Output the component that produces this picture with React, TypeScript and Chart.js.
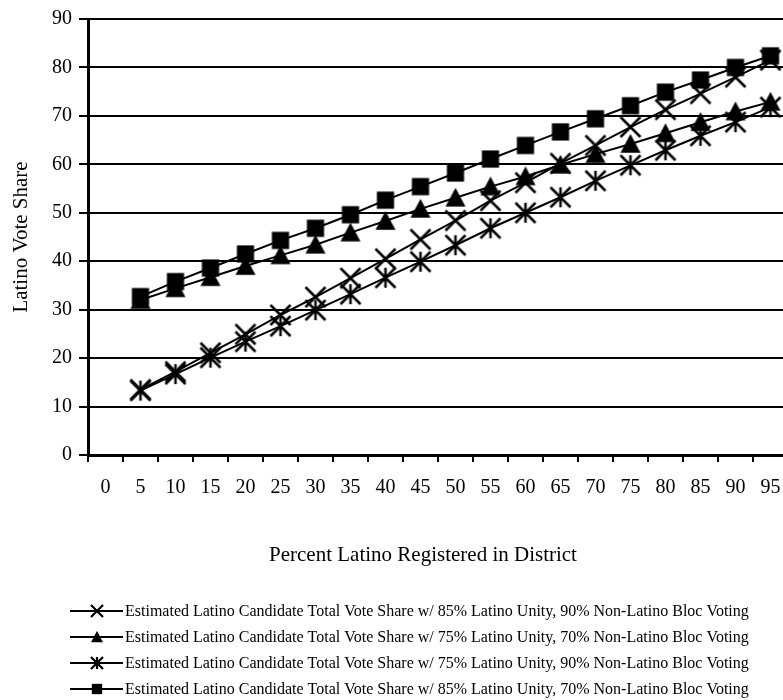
import React, { useEffect, useRef } from "react";
import { Chart, registerables } from "chart.js";

Chart.register(...registerables);

// Percent Latino registered in district (category axis)
const categories = [
  "0", "5", "10", "15", "20", "25", "30", "35", "40", "45",
  "50", "55", "60", "65", "70", "75", "80", "85", "90", "95",
];

// Estimated Latino candidate total vote share, one array per scenario
const unity85bloc90 = [
  null, 13.5, 17.2, 21.1, 24.9, 28.9, 32.6, 36.5, 40.5, 44.5,
  48.4, 52.5, 56.2, 60.2, 63.9, 67.7, 71.3, 74.6, 78.0, 81.5,
];
const unity75bloc70 = [
  null, 32.0, 34.4, 36.7, 39.0, 41.2, 43.4, 45.9, 48.3, 50.8,
  53.1, 55.4, 57.5, 59.9, 62.1, 64.2, 66.4, 68.7, 70.9, 72.9,
];
const unity75bloc90 = [
  null, 13.3, 16.7, 20.1, 23.4, 26.6, 29.9, 33.2, 36.6, 39.9,
  43.3, 46.8, 50.0, 53.2, 56.6, 59.8, 62.9, 65.9, 68.7, 71.8,
];
const unity85bloc70 = [
  null, 32.7, 35.8, 38.6, 41.5, 44.3, 46.8, 49.6, 52.6, 55.4,
  58.2, 61.1, 63.9, 66.7, 69.4, 72.1, 74.9, 77.4, 80.0, 82.4,
];

const seriesLabels = [
  "Estimated Latino Candidate Total Vote Share w/ 85% Latino Unity, 90% Non-Latino Bloc Voting",
  "Estimated Latino Candidate Total Vote Share w/ 75% Latino Unity, 70% Non-Latino Bloc Voting",
  "Estimated Latino Candidate Total Vote Share w/ 75% Latino Unity, 90% Non-Latino Bloc Voting",
  "Estimated Latino Candidate Total Vote Share w/ 85% Latino Unity, 70% Non-Latino Bloc Voting",
];
const seriesMarkers = ["x", "triangle", "star", "square"];

const yTitle = "Latino Vote Share";
const xTitle = "Percent Latino Registered in District";

const FONT = "'Liberation Serif', 'Times New Roman', serif";
const INK = "#000000";

type MarkerKind = "x" | "triangle" | "star" | "square";

// Builds a small bitmap marker used as a Chart.js pointStyle.
function makeMarker(kind: MarkerKind, size: number, lw: number): HTMLCanvasElement {
  const pad = 2;
  const c = document.createElement("canvas");
  c.width = size + pad * 2;
  c.height = size + pad * 2;
  const ctx = c.getContext("2d")!;
  ctx.translate(pad, pad);
  ctx.strokeStyle = INK;
  ctx.fillStyle = INK;
  ctx.lineWidth = lw;
  ctx.lineCap = "butt";
  const s = size;
  if (kind === "x" || kind === "star") {
    ctx.beginPath();
    ctx.moveTo(0, 0);
    ctx.lineTo(s, s);
    ctx.moveTo(s, 0);
    ctx.lineTo(0, s);
    if (kind === "star") {
      ctx.moveTo(s / 2, 0);
      ctx.lineTo(s / 2, s);
    }
    ctx.stroke();
  } else if (kind === "triangle") {
    ctx.beginPath();
    ctx.moveTo(s / 2, 0);
    ctx.lineTo(s, s * 0.94);
    ctx.lineTo(0, s * 0.94);
    ctx.closePath();
    ctx.fill();
  } else {
    const q = s * 0.86;
    const o = (s - q) / 2;
    ctx.fillRect(o, o, q, q);
  }
  return c;
}

export default function App() {
  const canvasRef = useRef<HTMLCanvasElement | null>(null);

  useEffect(() => {
    const canvas = canvasRef.current;
    if (!canvas) return;

    const chartMarkers = seriesMarkers.map((k) => makeMarker(k as MarkerKind, 20, 2.5));
    const legendMarkers = seriesMarkers.map((k) => makeMarker(k as MarkerKind, 12, 2.2));
    const seriesData = [unity85bloc90, unity75bloc70, unity75bloc90, unity85bloc70];

    // Draws the x-axis title and the line-with-marker legend under the plot.
    const legendPlugin = {
      id: "bottomLegend",
      afterDraw(chart: Chart) {
        const ctx = chart.ctx;
        ctx.save();
        ctx.fillStyle = INK;
        ctx.font = `21px ${FONT}`;
        ctx.textAlign = "center";
        ctx.textBaseline = "middle";
        ctx.fillText(xTitle, 423, 555);

        const rowY = [611, 637, 663, 689];
        ctx.font = `16px ${FONT}`;
        ctx.textAlign = "left";
        seriesLabels.forEach((label, i) => {
          const y = rowY[i];
          ctx.strokeStyle = INK;
          ctx.lineWidth = 2;
          ctx.beginPath();
          ctx.moveTo(70, y);
          ctx.lineTo(123, y);
          ctx.stroke();
          const m = legendMarkers[i];
          ctx.drawImage(m, Math.round(96.5 - m.width / 2), Math.round(y - m.height / 2));
          ctx.fillText(label, 125, y + 1);
        });
        ctx.restore();
      },
    };

    const chart = new Chart(canvas, {
      type: "line",
      data: {
        labels: categories,
        datasets: seriesData.map((d, i) => ({
          label: seriesLabels[i],
          data: d,
          borderColor: INK,
          backgroundColor: INK,
          borderWidth: 2,
          pointStyle: chartMarkers[i] as any,
          pointRadius: 9,
          pointHoverRadius: 9,
          tension: 0,
          fill: false,
          spanGaps: false,
          clip: false as any,
        })),
      },
      options: {
        responsive: false,
        animation: false,
        devicePixelRatio: 1,
        events: [],
        layout: { padding: { top: 15, right: 12, bottom: 0, left: 0 } },
        plugins: {
          legend: { display: false },
          tooltip: { enabled: false },
          title: { display: false },
        },
        scales: {
          x: {
            type: "category",
            offset: true,
            grid: {
              offset: true,
              drawOnChartArea: false,
              drawTicks: true,
              tickLength: 7,
              color: INK,
              lineWidth: 2,
            },
            border: { display: true, color: INK, width: 3 },
            ticks: {
              color: INK,
              font: { family: FONT, size: 20 },
              padding: 14,
              maxRotation: 0,
              autoSkip: false,
            },
            afterFit: (s: any) => {
              s.height = 245;
            },
          },
          y: {
            min: 0,
            max: 90,
            ticks: {
              stepSize: 10,
              color: INK,
              font: { family: FONT, size: 20 },
              padding: 7,
            },
            grid: { color: INK, lineWidth: 2, tickLength: 9 },
            border: { display: true, color: INK, width: 3 },
            title: {
              display: true,
              text: yTitle,
              color: INK,
              font: { family: FONT, size: 21 },
              padding: { top: 9, bottom: 0 },
            },
            afterFit: (s: any) => {
              s.width = 88;
            },
          },
        },
      },
      plugins: [legendPlugin],
    });

    return () => {
      chart.destroy();
    };
  }, []);

  return (
    <div
      style={{
        position: "absolute",
        left: 0,
        top: 0,
        width: 783,
        height: 700,
        overflow: "hidden",
        background: "#ffffff",
      }}
    >
      <canvas ref={canvasRef} width={800} height={700} style={{ display: "block" }} />
    </div>
  );
}
